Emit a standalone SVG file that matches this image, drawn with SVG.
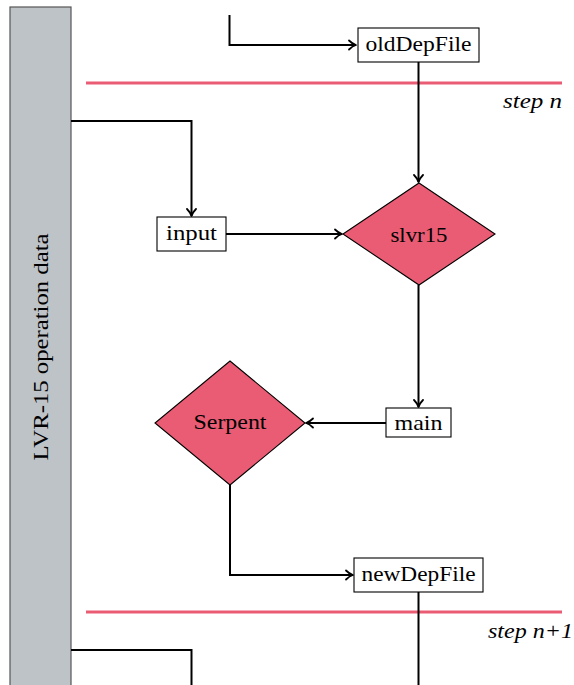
<svg xmlns="http://www.w3.org/2000/svg" width="574" height="685" viewBox="0 0 574 685">
<style>
.t{font-family:"Liberation Serif","Times New Roman",serif;font-size:22px;fill:#000}
.it{font-family:"Liberation Serif","Times New Roman",serif;font-size:22px;font-style:italic;fill:#000}
.box{fill:#fff;stroke:#000;stroke-width:1.1}
.dia{fill:#ea5c74;stroke:#000;stroke-width:1.1}
.c{fill:none;stroke:#000;stroke-width:2}
.sep{stroke:#ea5c74;stroke-width:3}
</style>
<defs>
<marker id="arr" markerUnits="userSpaceOnUse" markerWidth="12" markerHeight="12" refX="10" refY="6" orient="auto">
<path d="M3,1.5 Q6.5,5 10,6 Q6.5,7 3,10.5" fill="none" stroke="#000" stroke-width="1.8" stroke-linecap="round" stroke-linejoin="round"/>
</marker>
</defs>
<g id="lvr15">
<rect x="10" y="7" width="61" height="690" fill="#bec3c7" stroke="#555" stroke-width="1.2"/>
<text class="t" transform="translate(48,347) rotate(-90)" text-anchor="middle" textLength="227" lengthAdjust="spacingAndGlyphs">LVR-15 operation data</text>
</g>
<g id="separators">
<line class="sep" x1="86" y1="83" x2="562" y2="83"/>
<text class="it" x="562" y="108" text-anchor="end" textLength="59" lengthAdjust="spacingAndGlyphs">step n</text>
<line class="sep" x1="86" y1="612" x2="562" y2="612"/>
<text class="it" x="573" y="638" text-anchor="end" textLength="85" lengthAdjust="spacingAndGlyphs">step n+1</text>
</g>
<g id="connectors">
<path class="c" d="M229.5,15 V45 H356" marker-end="url(#arr)"/>
<path class="c" d="M418.5,62 V182" marker-end="url(#arr)"/>
<path class="c" d="M71,121 H191.5 V216" marker-end="url(#arr)"/>
<path class="c" d="M226,234 H342" marker-end="url(#arr)"/>
<path class="c" d="M418.5,285 V407" marker-end="url(#arr)"/>
<path class="c" d="M386,423 H306" marker-end="url(#arr)"/>
<path class="c" d="M230,485 V575 H353" marker-end="url(#arr)"/>
<path class="c" d="M418.5,592 V685"/>
<path class="c" d="M71,650 H191.5 V685"/>
</g>
<g id="oldDepFile">
<rect class="box" x="358" y="28" width="121" height="34"/>
<text class="t" x="418.5" y="50.5" text-anchor="middle" textLength="106" lengthAdjust="spacingAndGlyphs">oldDepFile</text>
</g>
<g id="input">
<rect class="box" x="157" y="217" width="69" height="34"/>
<text class="t" x="191.5" y="239.5" text-anchor="middle" textLength="51" lengthAdjust="spacingAndGlyphs">input</text>
</g>
<g id="slvr15">
<polygon class="dia" points="419,183 495,234 419,285 343,234"/>
<text class="t" x="419" y="241.5" text-anchor="middle" textLength="57" lengthAdjust="spacingAndGlyphs">slvr15</text>
</g>
<g id="main">
<rect class="box" x="386" y="408" width="65" height="29"/>
<text class="t" x="418.5" y="429.5" text-anchor="middle" textLength="48" lengthAdjust="spacingAndGlyphs">main</text>
</g>
<g id="Serpent">
<polygon class="dia" points="230,361 305,423 230,485 155,423"/>
<text class="t" x="230" y="428.5" text-anchor="middle" textLength="73" lengthAdjust="spacingAndGlyphs">Serpent</text>
</g>
<g id="newDepFile">
<rect class="box" x="354" y="558" width="129" height="34"/>
<text class="t" x="418.5" y="580.5" text-anchor="middle" textLength="114" lengthAdjust="spacingAndGlyphs">newDepFile</text>
</g>
</svg>
